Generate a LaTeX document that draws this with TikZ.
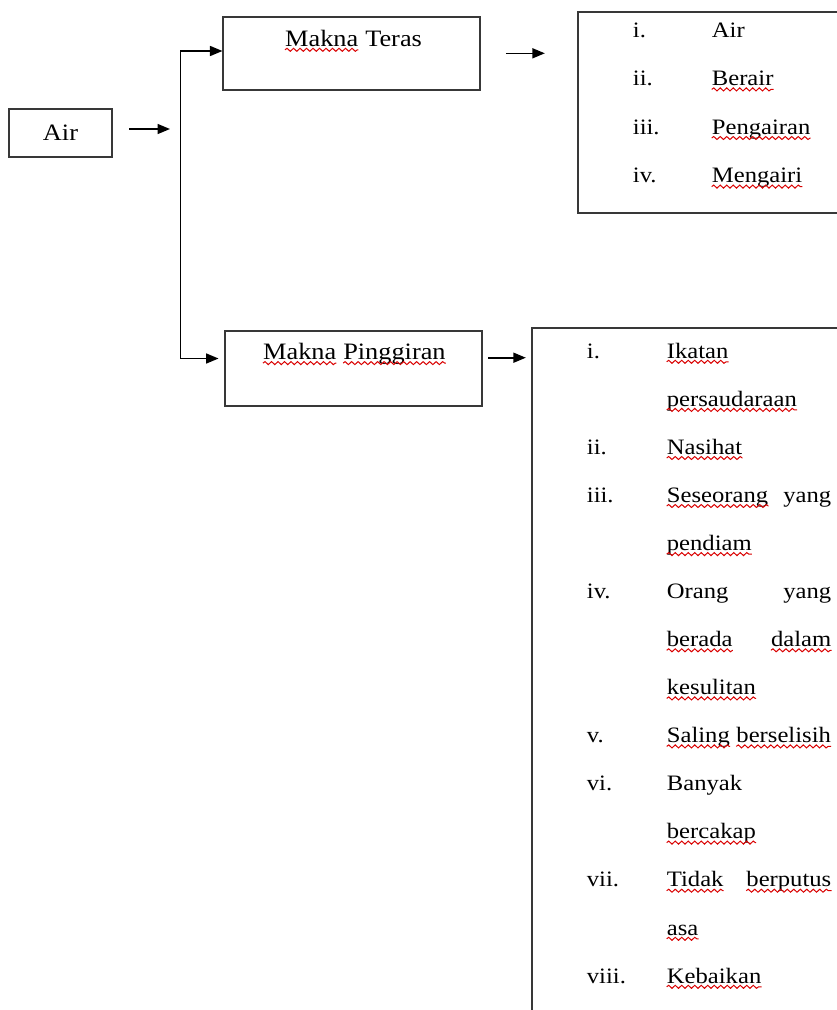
\documentclass[tikz,border=0pt]{standalone}
\usepackage{fontspec}
\setmainfont{Liberation Serif}[FakeStretch=1.12]
\usetikzlibrary{arrows.meta,decorations.pathmorphing}
\newcommand{\txtfont}{\fontsize{22}{26}\selectfont}
\newcommand{\hdfont}{\fontsize{23.5}{28}\selectfont}
\newcommand{\sq}[1]{\draw[squig] ([yshift=-3.8pt]#1.base west) -- ([yshift=-3.8pt]#1.base east);}
\begin{document}
\begin{tikzpicture}[x=1pt,y=-1pt,
  box/.style={draw=black!78, line width=1.8pt, inner sep=0pt, rectangle, font=\hdfont},
  arr/.style={-{Triangle[length=12.5pt,width=10pt]}, line width=1.6pt, draw=black},
  w/.style={anchor=base west, inner sep=0pt, font=\txtfont},
  we/.style={anchor=base east, inner sep=0pt, font=\txtfont},
  hw/.style={anchor=base west, inner sep=0pt, font=\hdfont},
  squig/.style={draw=red!85!black, line width=1pt, decorate,
     decoration={snake, amplitude=1.5pt, segment length=6.5pt}}
]
\useasboundingbox (0,0) rectangle (837,1010);
\clip (0,0) rectangle (837,1010);

% boxes
\node[box, minimum width=102.4pt, minimum height=47.4pt] (air) at (60.5,133) {Air};
\node[box, minimum width=256.7pt, minimum height=73.3pt] (teras) at (351.7,53.3) {};
\node[box, minimum width=256.7pt, minimum height=74.7pt] (ping) at (353.3,368.3) {};
\node[box, minimum width=322.3pt, minimum height=201pt] (list1) at (738.9,112.8) {};
\node[box, minimum width=368.3pt, minimum height=800pt] (list2) at (715.9,728.3) {};

% connectors
\coordinate (a0) at (129,129);
\coordinate (jin) at (170,129);
\coordinate (jtop) at (180.5,51);
\coordinate (jbot) at (180.5,358.5);
\coordinate (p0) at (488.3,357.7);
\draw[arr] (a0) -- (jin);
\draw[arr] (jbot) -- (jtop) -- (jtop -| teras.west);
\draw[arr, shorten >=5.5pt] (jtop) -- (jbot) -- (jbot -| ping.west);
\draw[arr] ([xshift=25pt]teras.east) -- ([xshift=-32pt]list1.west |- teras.east);
\draw[arr, shorten >=5pt] (p0) -- (p0 -| list2.west);

% headers
\node[hw] (mt1) at (285,46) {Makna};
\node[hw] (mt2) at ([xshift=6.6pt]mt1.base east) {Teras};
\sq{mt1}
\node[hw] (mp1) at (263,359.3) {Makna};
\node[hw] (mp2) at ([xshift=6.6pt]mp1.base east) {Pinggiran};
\sq{mp1} \sq{mp2}

% top list
\node[w] (n1a) at (632.7,37) {i.};
\node[w] (t1a) at (711.7,37) {Air};
\node[w] (n1b) at (632.7,85.6) {ii.};
\node[w] (t1b) at (711.7,85.6) {Berair};
\node[w] (n1c) at (632.7,134.2) {iii.};
\node[w] (t1c) at (711.7,134.2) {Pengairan};
\node[w] (n1d) at (632.7,182.8) {iv.};
\node[w] (t1d) at (711.7,182.8) {Mengairi};
\sq{t1b} \sq{t1c} \sq{t1d}

% bottom list
\node[w] (n2a) at (586.7,358) {i.};
\node[w] (r0) at (666.7,358) {Ikatan};
\node[w] (r1) at (666.7,406.1) {persaudaraan};
\node[w] (n2b) at (586.7,454.2) {ii.};
\node[w] (r2) at (666.7,454.2) {Nasihat};
\node[w] (n2c) at (586.7,502.2) {iii.};
\node[w] (r3) at (666.7,502.2) {Seseorang};
\node[we] (r3b) at (831.5,502.2) {yang};
\node[w] (r4) at (666.7,550.3) {pendiam};
\node[w] (n2d) at (586.7,598.4) {iv.};
\node[w] (r5) at (666.7,598.4) {Orang};
\node[we] (r5b) at (831.5,598.4) {yang};
\node[w] (r6) at (666.7,646.5) {berada};
\node[we] (r6b) at (831.5,646.5) {dalam};
\node[w] (r7) at (666.7,694.6) {kesulitan};
\node[w] (n2e) at (586.7,742.6) {v.};
\node[w] (r8) at (666.7,742.6) {Saling};
\node[w] (r8b) at ([xshift=6.2pt]r8.base east) {berselisih};
\node[w] (n2f) at (586.7,790.7) {vi.};
\node[w] (r9) at (666.7,790.7) {Banyak};
\node[w] (r10) at (666.7,838.8) {bercakap};
\node[w] (n2g) at (586.7,886.9) {vii.};
\node[w] (r11) at (666.7,886.9) {Tidak};
\node[we] (r11b) at (831.5,886.9) {berputus};
\node[w] (r12) at (666.7,935) {asa};
\node[w] (n2h) at (586.7,983) {viii.};
\node[w] (r13) at (666.7,983) {Kebaikan};
\sq{r0} \sq{r1} \sq{r2} \sq{r3} \sq{r4} \sq{r6} \sq{r6b} \sq{r7}
\sq{r8} \sq{r8b} \sq{r10} \sq{r11} \sq{r11b} \sq{r12} \sq{r13}
\end{tikzpicture}
\end{document}
